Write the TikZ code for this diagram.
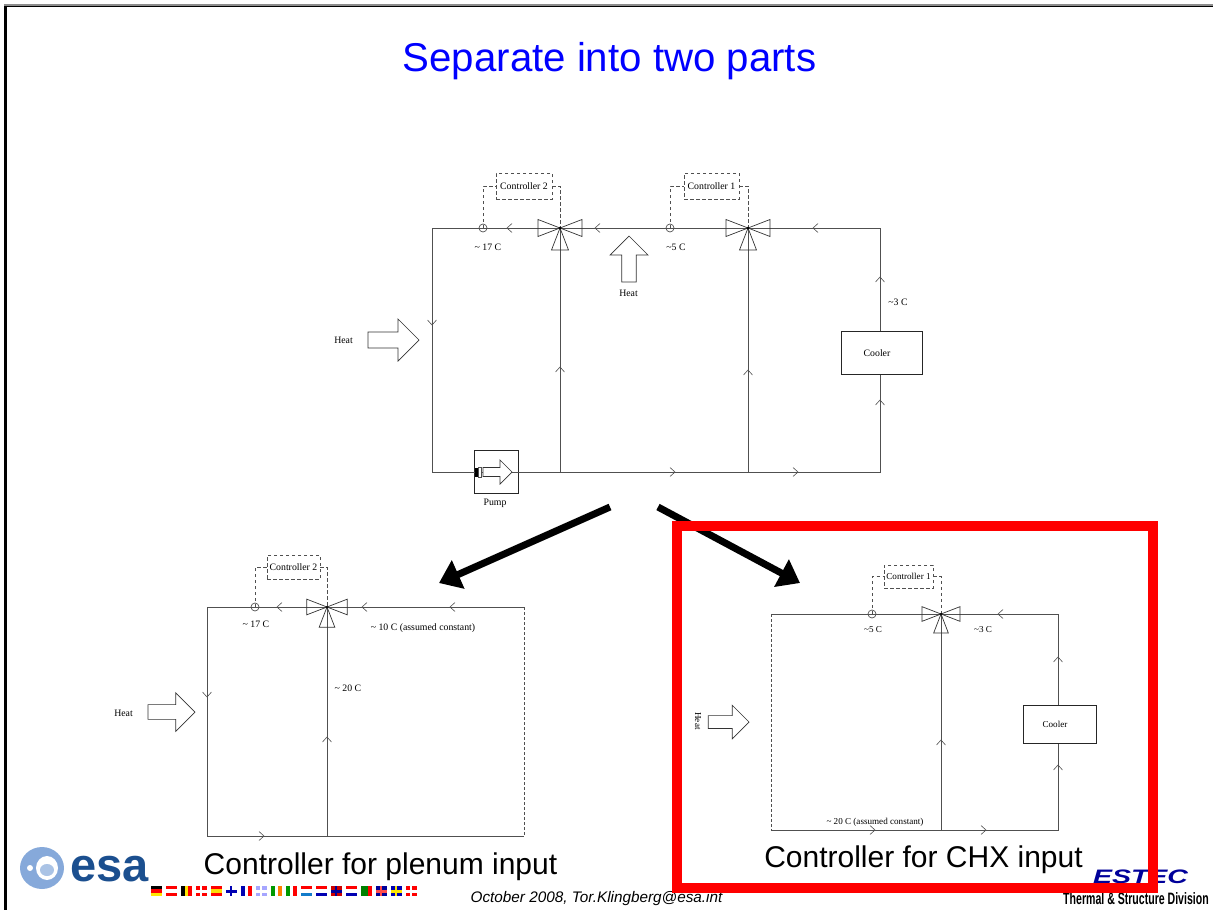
\documentclass[tikz,border=0pt]{standalone}
\usepackage{fontspec}
\setmainfont{Liberation Sans}
\newfontfamily\labelfont{Liberation Serif}
\usetikzlibrary{
    positioning,
    arrows.meta
}
\definecolor{esablue}{HTML}{1B4F8F}
\definecolor{globeblue}{HTML}{86A9DA}
\definecolor{estecblue}{HTML}{00009A}
\definecolor{pipegray}{HTML}{505050}

\begin{document}
\begin{tikzpicture}[
      x=1pt, y=-1pt,
      % Define styles for the elements
      pipe/.style={
          draw=pipegray,
          line width=0.95pt
        },
      openpipe/.style={
          draw=pipegray,
          line width=0.8pt,
          dash pattern=on 3pt off 2pt
        },
      signal/.style={
          draw=pipegray,
          line width=0.9pt,
          dash pattern=on 3.5pt off 2.5pt
        },
      controller/.style={
          rectangle,
          draw=pipegray,
          line width=0.9pt,
          dash pattern=on 3.5pt off 2.5pt,
          inner sep=0pt,
          font=\labelfont\fontsize{9.8}{10}\selectfont
        },
      sensor/.style={
          circle,
          draw=pipegray,
          line width=0.7pt,
          inner sep=0pt,
          minimum size=8pt
        },
      unitbox/.style={
          rectangle,
          draw=black!85,
          line width=0.9pt,
          inner sep=0pt
        },
      note/.style={
          inner sep=0pt,
          font=\labelfont\fontsize{9.8}{10}\selectfont
        },
      smallnote/.style={
          inner sep=0pt,
          font=\labelfont\fontsize{9.1}{10}\selectfont
        },
      caption/.style={
          inner sep=0pt,
          font=\fontsize{30}{32}\selectfont
        },
      bigarrow/.style={
          line width=7pt,
          -{Triangle[length=21pt,width=30pt]}
        },
      valve/.pic={
          \draw[black!80, line width=0.7pt] (0,0) -- (-22,-8.5) -- (-22,8.5) -- cycle;
          \draw[black!80, line width=0.7pt] (0,0) -- (22,-8.5) -- (22,8.5) -- cycle;
          \draw[black!80, line width=0.7pt] (0,0) -- (-8.5,22) -- (8.5,22) -- cycle;
          \fill[black] (0,0) circle (1.3);
        },
      heatarrow/.pic={
          \draw[fill=white, draw=black!80, line width=0.7pt] (0,0) -- (-21,-21) -- (-21,-8) -- (-51,-8) -- (-51,8) -- (-21,8) -- (-21,21) -- cycle;
        },
      barb/.pic={
          \draw[pipegray, line width=0.6pt] (5,-4.5) -- (0,0) -- (5,4.5);
        }
    ]

    \useasboundingbox (0,0) rectangle (1213,910);

    % Slide frame
    \fill[gray!90] (4,4) rectangle (1213,6);
    \fill[black] (4,6) rectangle (1213,7);
    \fill[black] (4,6) rectangle (7,910);

    \node[inner sep=0pt, text=blue, font=\fontsize{40.2}{44}\selectfont] (title) at (609.5,61) {Separate into two parts};

    % Top loop
    \coordinate (tl) at (432,228);
    \coordinate (tr) at (880,228);
    \coordinate (bl) at (432,472);
    \coordinate (br) at (880,472);
    \coordinate (valvetwo) at (560,228);
    \coordinate (valveone) at (748,228);

    \node[unitbox, fill=white, minimum width=44pt, minimum height=43pt] (pump) at (496,471.5) {};
    \draw[pipe] (bl) -- (tl) -- (tr) -- (br) -- cycle;
    \draw[pipe] (valvetwo) -- (valvetwo |- bl);
    \draw[pipe] (valveone) -- (valveone |- bl);

    \node[unitbox, fill=white, minimum width=81pt, minimum height=43pt] (cooler) at (881.5,352.5) {};
    \node[note] (coolertext) at (877,353) {Cooler};
    \node[sensor] (sensortwo) at (483,228) {};
    \node[sensor] (sensorone) at (670,228) {};
    \node[controller, minimum width=56pt, minimum height=26pt] (ctrltwo) at (524,186) {Controller 2};
    \node[controller, minimum width=55pt, minimum height=26pt] (ctrlone) at (711.5,186) {Controller 1};
    \draw[signal] (sensortwo.center) |- (ctrltwo);
    \draw[signal] (ctrltwo) -| (valvetwo);
    \draw[signal] (sensorone.center) |- (ctrlone);
    \draw[signal] (ctrlone) -| (valveone);

    \pic at (valvetwo) {valve};
    \pic at (valveone) {valve};
    \pic at (419,340) {heatarrow};
    \pic[rotate=90, scale=0.9] at (629,236) {heatarrow};
    \pic[scale=0.57] at (512,472) {heatarrow};

    % Pump shaft
    \fill[black] (475,467.5) rectangle (477.5,477);
    \draw[pipegray, fill=white, line width=0.6pt] (478.5,467.5) rectangle (481,477);

    \node[note] (heatleft) at (343.5,340.5) {Heat};
    \node[note] (heatup) at (628.5,293) {Heat};
    \node[note] (pumptext) at (495,503) {Pump};
    \node[note] (tempa) at (488,247) {\textasciitilde{} 17 C};
    \node[note] (tempb) at (676,247) {\textasciitilde5 C};
    \node[note] (tempc) at (898,302) {\textasciitilde3 C};

    % Plenum loop
    \coordinate (ptl) at (207,607);
    \coordinate (ptr) at (524,607);
    \coordinate (pbl) at (207,836);
    \coordinate (pbr) at (524,836);
    \coordinate (valveplenum) at (327,607);

    \draw[pipe] (ptr) -- (ptl) -- (pbl) -- (pbr);
    \draw[openpipe] (ptr) -- (pbr);
    \draw[pipe] (valveplenum) -- (valveplenum |- pbl);
    \node[sensor] (sensorplenum) at (255,607) {};
    \node[controller, minimum width=53pt, minimum height=24pt] (ctrlplenum) at (293.5,567) {Controller 2};
    \draw[signal] (sensorplenum.center) |- (ctrlplenum);
    \draw[signal] (ctrlplenum) -| (valveplenum);
    \pic[scale=0.92] at (valveplenum) {valve};
    \pic[scale=0.92] at (195,712) {heatarrow};
    \node[note] (heatplenum) at (123.5,713) {Heat};
    \node[note] (tempd) at (256,624) {\textasciitilde{} 17 C};
    \node[note] (tempe) at (423,628) {\textasciitilde{} 10 C (assumed constant)};
    \node[note] (tempf) at (348,688) {\textasciitilde{} 20 C};

    % CHX loop
    \coordinate (ctl) at (771,614);
    \coordinate (ctr) at (1058,614);
    \coordinate (cbl) at (771,830);
    \coordinate (cbr) at (1058,830);
    \coordinate (valvechx) at (941,614);

    \draw[pipe] (ctl) -- (ctr) -- (cbr) -- (cbl);
    \draw[openpipe] (ctl) -- (cbl);
    \draw[pipe] (valvechx) -- (valvechx |- cbl);
    \node[unitbox, fill=white, minimum width=73pt, minimum height=38pt] (coolerchx) at (1059.5,724) {};
    \node[smallnote] (coolerchxtext) at (1055,724) {Cooler};
    \node[sensor] (sensorchx) at (872,614) {};
    \node[controller, minimum width=49pt, minimum height=23pt, font=\labelfont\fontsize{9.1}{10}\selectfont] (ctrlchx) at (908.5,576.5) {Controller 1};
    \draw[signal] (sensorchx.center) |- (ctrlchx);
    \draw[signal] (ctrlchx) -| (valvechx);
    \pic[scale=0.86] at (valvechx) {valve};
    \pic[scale=0.8] at (749,722) {heatarrow};
    \node[smallnote, rotate=-90] (heatchx) at (698,721) {Heat};
    \node[smallnote] (tempg) at (873,630) {\textasciitilde5 C};
    \node[smallnote] (temph) at (983,630) {\textasciitilde3 C};
    \node[smallnote] (tempi) at (875,822) {\textasciitilde{} 20 C (assumed constant)};

    % Flow direction marks
    \foreach \px/\py/\pa in {507/228/0, 595/228/0, 813/228/0, 432/325/90, 560/367/-90, 748/370/-90, 880/277/-90, 880/400/-90, 675/472/180, 798/472/180,
        277/607/0, 362/607/0, 450/607/0, 207/697/90, 327/737/-90, 264/836/180,
        998/614/0, 1058/657/-90, 941/740/-90, 1058/765/-90, 875/830/180, 986/830/180} {
        \pic[rotate=\pa] at (\px,\py) {barb};
      }

    % Arrows between the three schemes
    \coordinate (splitleft) at (610,507);
    \coordinate (splitright) at (658,507);
    \coordinate (intoplenum) at (439,583);
    \coordinate (intochx) at (800,583);
    \draw[bigarrow] (splitleft) -- (intoplenum);
    \draw[bigarrow] (splitright) -- (intochx);

    \node[caption] (captionplenum) at (380.5,867) {Controller for plenum input};
    \node[caption] (captionchx) at (923.5,860) {Controller for CHX input};

    % Footer
    \fill[globeblue] (42,868) circle [x radius=22, y radius=21];
    \fill[white] (47,868) circle [x radius=11, y radius=12];
    \fill[globeblue!70!white] (47,870) circle [x radius=7, y radius=6];
    \fill[white] (30,868) circle (3);
    \node[inner sep=0pt, text=esablue, font=\bfseries\fontsize{47}{50}\selectfont] (esa) at (109.5,869) {esa};

    % Flags
    \foreach \fx/\fa/\fb/\fc in {151/black/red/yellow!90!orange, 166/red/white/red, 211/red/yellow!80!orange/red, 301/red/white/cyan!60!blue, 316/red/white/blue!70!black, 346/red/white/blue!70!black} {
        \fill[\fa] (\fx,886) rectangle ++(11,3.4);
        \fill[\fb] (\fx,889.4) rectangle ++(11,3.3);
        \fill[\fc] (\fx,892.7) rectangle ++(11,3.3);
      }
    \foreach \fx/\fa/\fb/\fc in {181/black/yellow!90!orange/red, 241/blue!70!black/white/red, 271/green!60!black/white/orange, 286/green!60!black/white/red, 361/green!50!black/green!50!black/red} {
        \fill[\fa] (\fx,886) rectangle ++(3.7,10);
        \fill[\fb] (\fx+3.7,886) rectangle ++(3.7,10);
        \fill[\fc] (\fx+7.4,886) rectangle ++(3.6,10);
      }
    \foreach \fx/\fa/\fb in {196/red/white, 226/white/blue!70!black, 256/blue!35!white/white, 331/red!80!black/blue!60!black, 376/blue!60!black/red!70!white, 391/blue!70!black/yellow!90!orange, 406/red/white} {
        \fill[\fa] (\fx,886) rectangle ++(11,10);
        \fill[\fb] (\fx+3.5,886) rectangle ++(2.5,10);
        \fill[\fb] (\fx,890) rectangle ++(11,2.5);
      }

    \node[inner sep=0pt, font=\itshape\fontsize{15.3}{17}\selectfont] (footnote) at (596.5,899) {October 2008, Tor.Klingberg@esa.int};
    \node[inner sep=0pt, transform shape, xscale=1.46, text=estecblue, font=\bfseries\itshape\fontsize{19.5}{20}\selectfont] (estec) at (1140.5,877) {ESTEC};
    \node[inner sep=0pt, transform shape, xscale=0.64, font=\bfseries\fontsize{16.5}{18}\selectfont] (division) at (1136,899) {Thermal \& Structure Division};

    % Highlight
    \node[draw=red, line width=10pt, inner sep=0pt, minimum width=476pt, minimum height=362pt] (highlight) at (915,707) {};

  \end{tikzpicture}
\end{document}
